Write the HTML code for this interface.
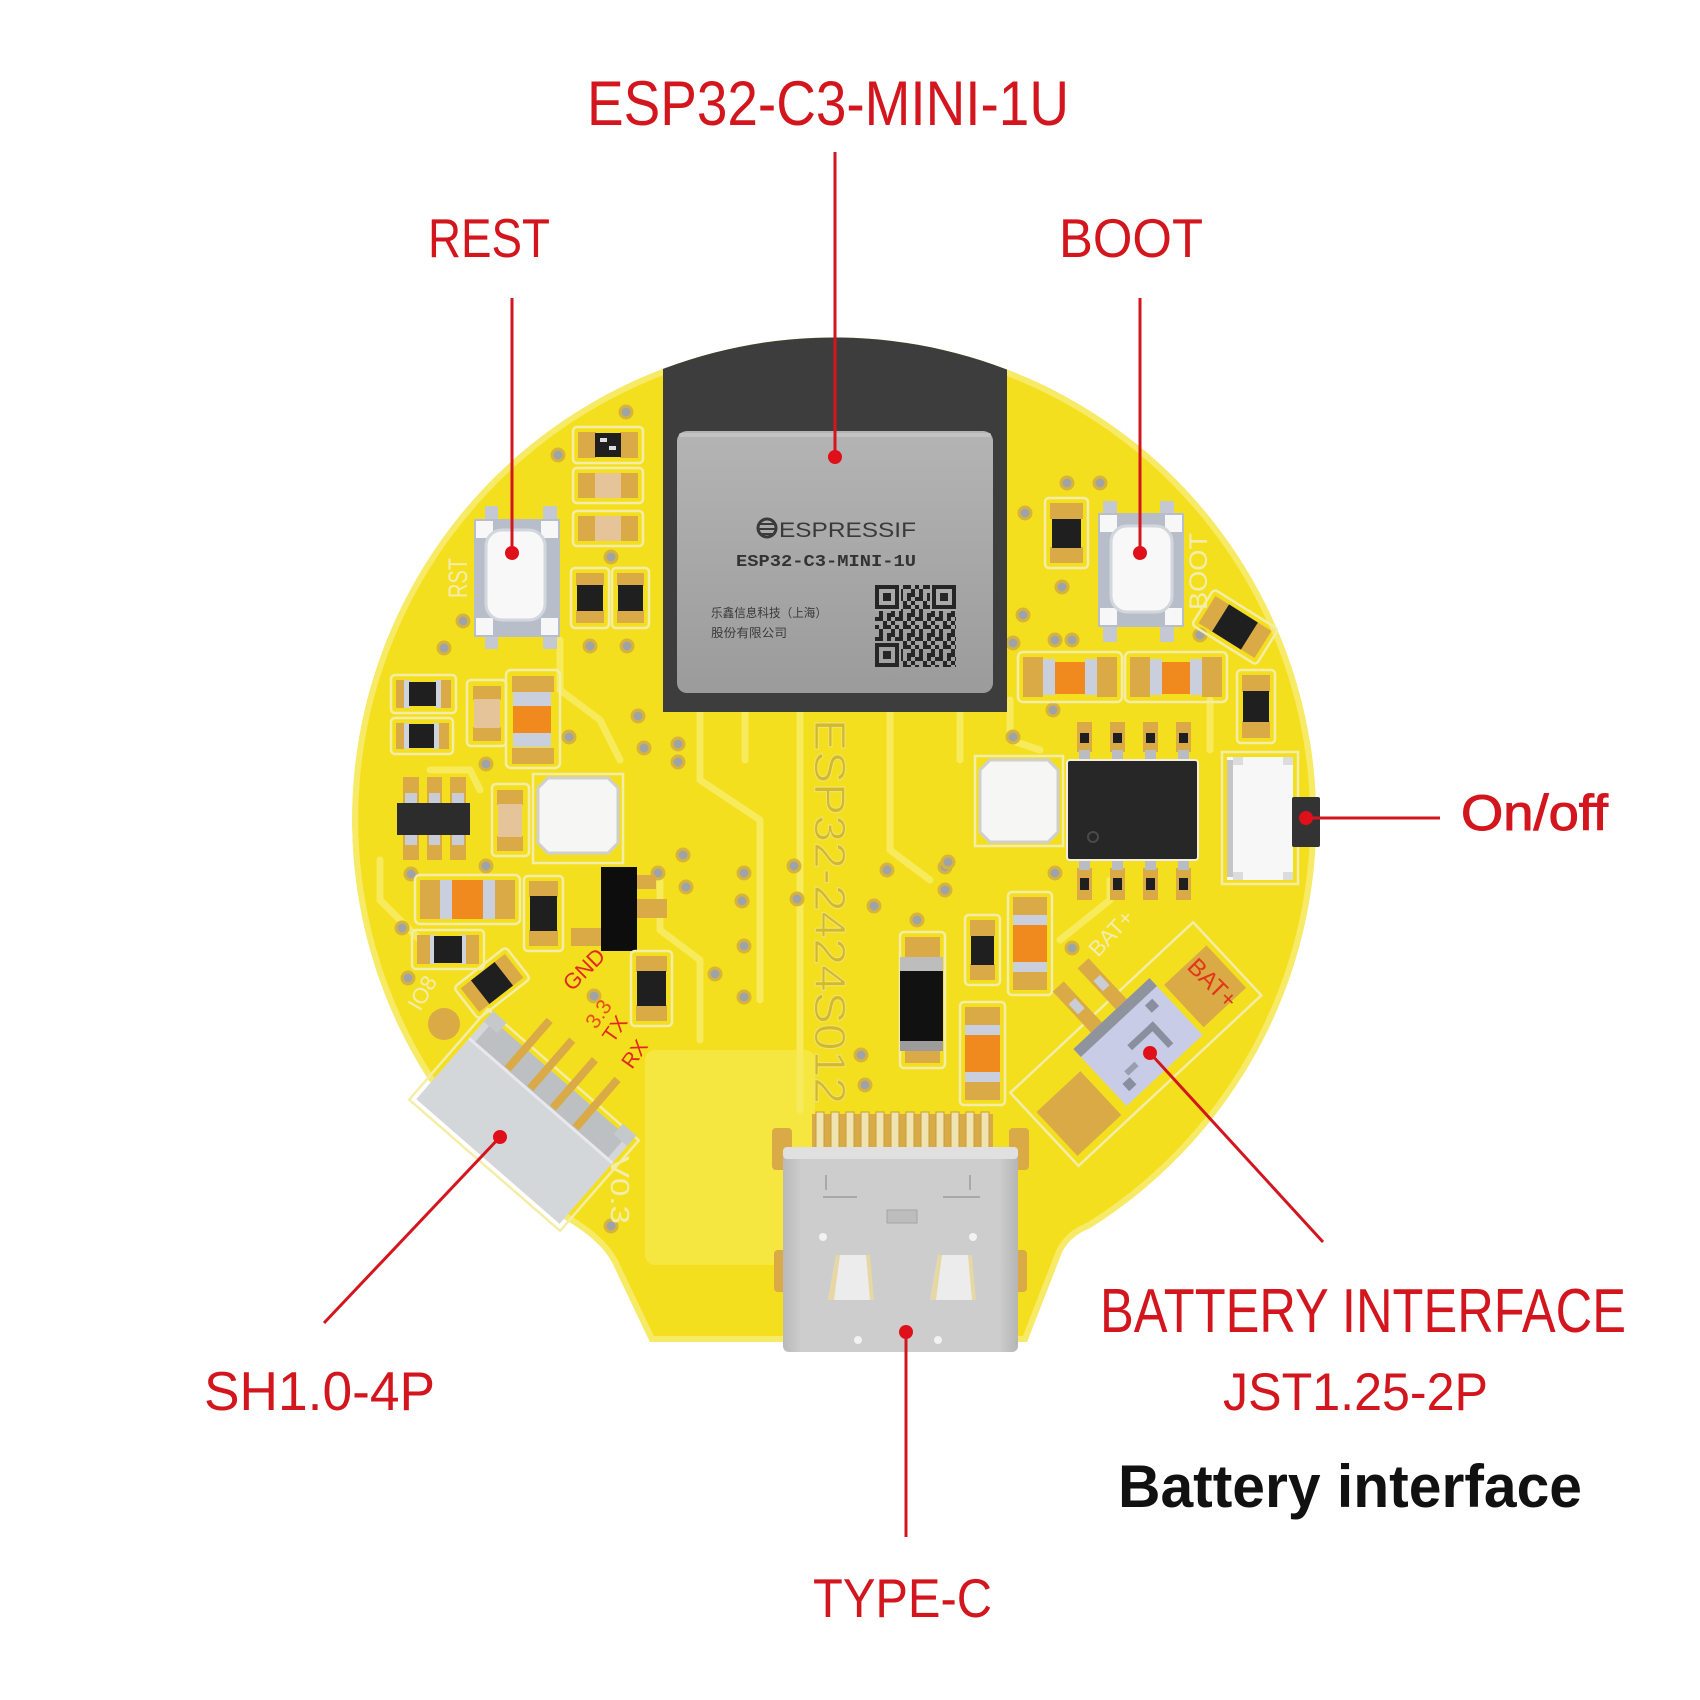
<!DOCTYPE html>
<html><head><meta charset="utf-8"><style>html,body{margin:0;padding:0;background:#fff}svg{display:block}</style></head>
<body>
<svg width="1700" height="1700" viewBox="0 0 1700 1700" xmlns="http://www.w3.org/2000/svg">
<defs>
<style>
.g{fill:#d9aa46}.k{fill:#1f1f1f}.o{fill:none;stroke:#f4eda8;stroke-width:2.5}
.b{fill:#c9cfdc}.or{fill:#f08a1e}.be{fill:#e6c499}
.v{fill:#9ea3a8;stroke:#d6b43c;stroke-width:3}
.t{fill:none;stroke:#f7ea5c;stroke-width:7;stroke-linecap:round;stroke-linejoin:round}
.lab{font-family:"Liberation Sans",Arial,sans-serif;fill:#d3161e}
.ln{stroke:#d3161e;stroke-width:3;fill:none}
.dot{fill:#e0101a}
</style>
<clipPath id="board"><path d="M1090 1228 A482 482 0 1 0 566 1220 Q600 1240 612 1262 L650 1342 L1027 1342 L1062 1252 Q1070 1236 1090 1228 Z"/></clipPath>
<linearGradient id="sh" x1="0" y1="0" x2="0" y2="1"><stop offset="0" stop-color="#b4b4b4"/><stop offset="1" stop-color="#9b9b9b"/></linearGradient>
<linearGradient id="usb" x1="0" y1="0" x2="1" y2="0"><stop offset="0" stop-color="#b9b9b9"/><stop offset="0.08" stop-color="#cdcdcd"/><stop offset="0.92" stop-color="#cdcdcd"/><stop offset="1" stop-color="#b5b5b5"/></linearGradient>
<pattern id="qr" x="875" y="585" width="20" height="20" patternUnits="userSpaceOnUse">
<g fill="#262626"><rect x="0" y="0" width="4" height="4"/><rect x="8" y="0" width="8" height="4"/><rect x="4" y="4" width="4" height="8"/><rect x="12" y="8" width="4" height="4"/><rect x="0" y="12" width="8" height="4"/><rect x="16" y="4" width="4" height="8"/><rect x="8" y="16" width="4" height="4"/><rect x="16" y="16" width="4" height="4"/><rect x="12" y="12" width="4" height="4"/></g>
</pattern>
</defs>
<rect width="1700" height="1700" fill="#fff"/>

<!-- BOARD -->
<path d="M1090 1228 A482 482 0 1 0 566 1220 Q600 1240 612 1262 L650 1342 L1027 1342 L1062 1252 Q1070 1236 1090 1228 Z" fill="#f4df1e"/>
<g clip-path="url(#board)">
<path d="M1090 1228 A482 482 0 1 0 566 1220 Q600 1240 612 1262 L650 1342 L1027 1342 L1062 1252 Q1070 1236 1090 1228 Z" fill="none" stroke="#f7ea66" stroke-width="12"/>
<rect x="645" y="1050" width="170" height="215" rx="10" fill="#f6e640"/>
<!-- traces -->
<polyline class="t" points="700,712 700,780 760,820 760,1000"/>
<polyline class="t" points="745,712 745,760"/>
<polyline class="t" points="800,712 800,1110"/>
<polyline class="t" points="890,712 890,850 930,880"/>
<polyline class="t" points="960,714 960,760"/>
<polyline class="t" points="560,640 560,690 600,720 620,760"/>
<polyline class="t" points="430,770 470,770 480,790"/>
<polyline class="t" points="1010,700 1010,740 1040,750"/>
<polyline class="t" points="1210,700 1210,750"/>
<polyline class="t" points="660,880 660,930 700,960 700,1040"/>
<polyline class="t" points="380,860 380,900 420,940"/>
<polyline class="t" points="1110,880 1110,900 1060,940"/>
</g>

<!-- vias -->
<g>
<circle class="v" cx="626" cy="412" r="6"/><circle class="v" cx="558" cy="455" r="6"/><circle class="v" cx="611" cy="557" r="6"/>
<circle class="v" cx="463" cy="621" r="6"/><circle class="v" cx="444" cy="648" r="6"/><circle class="v" cx="590" cy="646" r="6"/>
<circle class="v" cx="627" cy="646" r="6"/><circle class="v" cx="638" cy="716" r="6"/><circle class="v" cx="569" cy="737" r="6"/>
<circle class="v" cx="644" cy="748" r="6"/><circle class="v" cx="678" cy="744" r="6"/><circle class="v" cx="678" cy="762" r="6"/>
<circle class="v" cx="486" cy="764" r="6"/><circle class="v" cx="486" cy="866" r="6"/><circle class="v" cx="683" cy="855" r="6"/>
<circle class="v" cx="744" cy="873" r="6"/><circle class="v" cx="794" cy="866" r="6"/><circle class="v" cx="658" cy="873" r="6"/>
<circle class="v" cx="1067" cy="483" r="6"/><circle class="v" cx="1100" cy="483" r="6"/><circle class="v" cx="1025" cy="513" r="6"/>
<circle class="v" cx="1062" cy="587" r="6"/><circle class="v" cx="1023" cy="615" r="6"/><circle class="v" cx="1013" cy="643" r="6"/>
<circle class="v" cx="1055" cy="640" r="6"/><circle class="v" cx="1072" cy="640" r="6"/><circle class="v" cx="1200" cy="635" r="6"/>
<circle class="v" cx="1053" cy="710" r="6"/><circle class="v" cx="1013" cy="737" r="6"/>
<circle class="v" cx="411" cy="874" r="6"/><circle class="v" cx="402" cy="928" r="6"/><circle class="v" cx="408" cy="978" r="6"/>
<circle class="v" cx="686" cy="887" r="6"/><circle class="v" cx="742" cy="901" r="6"/><circle class="v" cx="744" cy="946" r="6"/>
<circle class="v" cx="715" cy="974" r="6"/><circle class="v" cx="744" cy="997" r="6"/><circle class="v" cx="797" cy="899" r="6"/>
<circle class="v" cx="861" cy="1055" r="6"/><circle class="v" cx="865" cy="1085" r="6"/><circle class="v" cx="611" cy="1226" r="6"/>
<circle class="v" cx="594" cy="996" r="6"/><circle class="v" cx="874" cy="906" r="6"/><circle class="v" cx="887" cy="870" r="6"/>
<circle class="v" cx="945" cy="867" r="6"/><circle class="v" cx="945" cy="890" r="6"/><circle class="v" cx="917" cy="920" r="6"/>
<circle class="v" cx="1072" cy="948" r="6"/><circle class="v" cx="1055" cy="873" r="6"/><circle class="v" cx="948" cy="862" r="6"/>
</g>

<!-- silkscreen board text -->
<text transform="translate(815,719) rotate(90)" font-family="Liberation Sans,Arial,sans-serif" font-size="44" fill="#d2b92a" stroke="#efe07a" stroke-width="1" textLength="385" lengthAdjust="spacingAndGlyphs">ESP32-2424S012</text>
<text transform="translate(611,1156) rotate(90)" font-family="Liberation Sans,Arial,sans-serif" font-size="26" fill="#f3edb0" textLength="68" lengthAdjust="spacingAndGlyphs">V0.3</text>
<text transform="translate(467,598) rotate(-90)" font-family="Liberation Sans,Arial,sans-serif" font-size="27" fill="#f3edb0" textLength="40" lengthAdjust="spacingAndGlyphs">RST</text>
<text transform="translate(1207,610) rotate(-90)" font-family="Liberation Sans,Arial,sans-serif" font-size="25" fill="#f3edb0" textLength="77" lengthAdjust="spacingAndGlyphs">BOOT</text>
<text transform="translate(420,1012) rotate(-60)" font-family="Liberation Sans,Arial,sans-serif" font-size="22" fill="#f3edb0">IO8</text>
<text transform="translate(1098,958) rotate(-47)" font-family="Liberation Sans,Arial,sans-serif" font-size="22" fill="#f3edb0">BAT+</text>
<text transform="translate(572,992) rotate(-45)" font-family="Liberation Sans,Arial,sans-serif" font-size="22" fill="#e0281c">GND</text>
<text transform="translate(596,1030) rotate(-55)" font-family="Liberation Sans,Arial,sans-serif" font-size="21" fill="#e8501a">3.3</text>
<text transform="translate(613,1044) rotate(-55)" font-family="Liberation Sans,Arial,sans-serif" font-size="21" fill="#e0281c">TX</text>
<text transform="translate(632,1070) rotate(-55)" font-family="Liberation Sans,Arial,sans-serif" font-size="21" fill="#e0281c">RX</text>
<circle cx="444" cy="1024" r="16" fill="#d9aa46"/>

<!-- LEFT COMPONENTS -->
<rect class="o" x="573" y="427" width="70" height="36" rx="4"/>
<rect class="g" x="578" y="432" width="18" height="26"/><rect class="g" x="620" y="432" width="18" height="26"/>
<rect class="k" x="595" y="433" width="26" height="24"/><rect x="600" y="438" width="7" height="4" fill="#ddd"/><rect x="609" y="446" width="7" height="4" fill="#ddd"/>
<rect class="o" x="573" y="468" width="70" height="35" rx="4"/>
<rect class="g" x="578" y="473" width="18" height="25"/><rect class="g" x="620" y="473" width="18" height="25"/><rect class="be" x="595" y="473" width="26" height="25"/>
<rect class="o" x="573" y="511" width="70" height="35" rx="4"/>
<rect class="g" x="578" y="516" width="18" height="25"/><rect class="g" x="620" y="516" width="18" height="25"/><rect class="be" x="595" y="516" width="26" height="25"/>
<rect class="o" x="571" y="568" width="38" height="60" rx="4"/>
<rect class="g" x="576" y="573" width="28" height="13"/><rect class="g" x="576" y="610" width="28" height="13"/><rect class="k" x="577" y="585" width="26" height="26"/>
<rect class="o" x="612" y="568" width="37" height="60" rx="4"/>
<rect class="g" x="617" y="573" width="27" height="13"/><rect class="g" x="617" y="610" width="27" height="13"/><rect class="k" x="618" y="585" width="25" height="26"/>
<!-- RST button -->
<rect x="485" y="506" width="13" height="14" fill="#c3c8d2"/><rect x="543" y="506" width="14" height="14" fill="#c3c8d2"/>
<rect x="485" y="636" width="13" height="13" fill="#c3c8d2"/><rect x="543" y="636" width="14" height="13" fill="#c3c8d2"/>
<rect x="474" y="519" width="86" height="118" fill="#b8bec9"/>
<rect x="476" y="521" width="17" height="17" fill="#f7f7f7"/><rect x="541" y="521" width="17" height="17" fill="#f7f7f7"/>
<rect x="476" y="618" width="17" height="17" fill="#f7f7f7"/><rect x="541" y="618" width="17" height="17" fill="#f7f7f7"/>
<rect x="486" y="530" width="59" height="90" rx="16" fill="#f8f8f8" stroke="#d2d6dd" stroke-width="3"/>
<!-- R6,R7 -->
<rect class="o" x="391" y="675" width="65" height="38" rx="4"/>
<rect class="g" x="396" y="680" width="14" height="28"/><rect class="g" x="437" y="680" width="14" height="28"/>
<rect x="404" y="680" width="6" height="28" fill="#cfd3dc"/><rect x="435" y="680" width="6" height="28" fill="#cfd3dc"/>
<rect class="k" x="409" y="682" width="27" height="24"/>
<rect class="o" x="391" y="718" width="62" height="36" rx="4"/>
<rect class="g" x="396" y="723" width="14" height="26"/><rect class="g" x="435" y="723" width="14" height="26"/>
<rect x="404" y="723" width="6" height="26" fill="#cfd3dc"/><rect x="433" y="723" width="6" height="26" fill="#cfd3dc"/>
<rect class="k" x="409" y="724" width="25" height="24"/>
<rect class="o" x="467" y="680" width="39" height="66" rx="4"/>
<rect class="g" x="473" y="686" width="28" height="14"/><rect class="g" x="473" y="727" width="28" height="14"/><rect class="be" x="474" y="699" width="26" height="29"/>
<rect class="o" x="506" y="670" width="54" height="98" rx="5"/>
<rect class="g" x="512" y="676" width="42" height="16"/><rect class="g" x="512" y="748" width="42" height="16"/>
<rect class="b" x="513" y="692" width="38" height="14"/><rect class="b" x="513" y="733" width="38" height="14"/>
<rect class="or" x="513" y="706" width="38" height="27"/>
<!-- U1 -->
<rect class="g" x="403" y="777" width="16" height="26"/><rect class="g" x="427" y="777" width="15" height="26"/><rect class="g" x="450" y="777" width="16" height="26"/>
<rect class="g" x="403" y="835" width="16" height="25"/><rect class="g" x="427" y="835" width="15" height="25"/><rect class="g" x="450" y="835" width="16" height="25"/>
<rect x="405" y="793" width="12" height="10" fill="#c8ccd4"/><rect x="429" y="793" width="11" height="10" fill="#c8ccd4"/><rect x="452" y="793" width="12" height="10" fill="#c8ccd4"/>
<rect x="405" y="835" width="12" height="10" fill="#c8ccd4"/><rect x="429" y="835" width="11" height="10" fill="#c8ccd4"/><rect x="452" y="835" width="12" height="10" fill="#c8ccd4"/>
<rect x="397" y="803" width="73" height="32" fill="#2c2c2c"/>
<rect class="o" x="492" y="784" width="37" height="72" rx="4"/>
<rect class="g" x="497" y="790" width="26" height="15"/><rect class="g" x="497" y="836" width="26" height="15"/><rect class="be" x="498" y="804" width="24" height="33"/>
<rect class="o" x="533" y="774" width="90" height="89"/>
<polygon points="548,778 608,778 618,788 618,843 608,853 548,853 538,843 538,788" fill="#f6f6f4" stroke="#cfcfcf" stroke-width="3"/>
<rect class="o" x="415" y="875" width="105" height="49" rx="5"/>
<rect class="g" x="420" y="880" width="20" height="39"/><rect class="g" x="495" y="880" width="20" height="39"/>
<rect class="b" x="440" y="880" width="12" height="39"/><rect class="b" x="483" y="880" width="12" height="39"/>
<rect class="or" x="452" y="880" width="31" height="39"/>
<rect class="o" x="524" y="876" width="39" height="75" rx="4"/>
<rect class="g" x="529" y="881" width="29" height="16"/><rect class="g" x="529" y="930" width="29" height="16"/><rect class="k" x="530" y="896" width="27" height="35"/>
<rect class="g" x="636" y="899" width="31" height="19"/><rect class="g" x="571" y="928" width="30" height="18"/><rect class="g" x="636" y="875" width="20" height="14"/>
<rect x="601" y="867" width="36" height="84" fill="#0d0d0d"/>
<rect class="o" x="412" y="930" width="72" height="39" rx="4"/>
<rect class="g" x="417" y="935" width="16" height="29"/><rect class="g" x="463" y="935" width="16" height="29"/>
<rect x="430" y="935" width="6" height="29" fill="#cfd3dc"/><rect x="460" y="935" width="6" height="29" fill="#cfd3dc"/>
<rect class="k" x="434" y="936" width="28" height="27"/>
<g transform="translate(492,983) rotate(-38)">
<rect class="o" x="-33" y="-20" width="66" height="40" rx="4"/>
<rect class="g" x="-28" y="-15" width="14" height="30"/><rect class="g" x="14" y="-15" width="14" height="30"/><rect class="k" x="-15" y="-15" width="30" height="30"/>
</g>
<rect class="o" x="631" y="951" width="41" height="75" rx="4"/>
<rect class="g" x="636" y="956" width="31" height="16"/><rect class="g" x="636" y="1005" width="31" height="16"/><rect class="k" x="637" y="971" width="29" height="35"/>

<!-- SH1.0 connector -->
<g transform="translate(524,1120) rotate(41)">
<rect x="-100" y="-60" width="200" height="120" fill="none" stroke="#f4eda8" stroke-width="2.5"/>
<rect x="-95" y="-55" width="190" height="110" fill="#d4d7d9"/>
<rect x="-88" y="-55" width="176" height="28" fill="#bcc0c3"/>
<rect x="-95" y="-62" width="18" height="14" fill="#c5c9cc"/><rect x="77" y="-62" width="18" height="14" fill="#c5c9cc"/>
<rect class="g" x="-50" y="-92" width="8" height="64"/><rect class="g" x="-20" y="-92" width="8" height="64"/>
<rect class="g" x="10" y="-92" width="8" height="64"/><rect class="g" x="40" y="-92" width="8" height="64"/>
<rect x="-95" y="-27" width="190" height="3" fill="#e6e8ea"/>
</g>

<!-- RIGHT COMPONENTS -->
<rect class="o" x="1045" y="498" width="43" height="70" rx="4"/>
<rect class="g" x="1050" y="503" width="33" height="16"/><rect class="g" x="1050" y="547" width="33" height="16"/><rect class="k" x="1052" y="519" width="29" height="29"/>
<rect x="1103" y="501" width="14" height="14" fill="#c3c8d2"/><rect x="1160" y="501" width="14" height="14" fill="#c3c8d2"/>
<rect x="1103" y="626" width="14" height="16" fill="#c3c8d2"/><rect x="1160" y="626" width="14" height="16" fill="#c3c8d2"/>
<rect x="1098" y="513" width="86" height="114" fill="#b8bec9"/>
<rect x="1100" y="515" width="17" height="17" fill="#f7f7f7"/><rect x="1165" y="515" width="17" height="17" fill="#f7f7f7"/>
<rect x="1100" y="608" width="17" height="17" fill="#f7f7f7"/><rect x="1165" y="608" width="17" height="17" fill="#f7f7f7"/>
<rect x="1111" y="526" width="61" height="86" rx="16" fill="#f8f8f8" stroke="#d2d6dd" stroke-width="3"/>
<g transform="translate(1235,627) rotate(32)">
<rect class="o" x="-38" y="-21" width="76" height="42" rx="4"/>
<rect class="g" x="-33" y="-16" width="17" height="32"/><rect class="g" x="16" y="-16" width="17" height="32"/><rect class="k" x="-17" y="-16" width="34" height="32"/>
</g>
<rect class="o" x="1018" y="652" width="104" height="50" rx="5"/>
<rect class="g" x="1023" y="657" width="20" height="40"/><rect class="g" x="1097" y="657" width="20" height="40"/>
<rect class="b" x="1043" y="659" width="12" height="36"/><rect class="b" x="1085" y="659" width="12" height="36"/>
<rect class="or" x="1055" y="662" width="30" height="32"/>
<rect class="o" x="1125" y="652" width="102" height="50" rx="5"/>
<rect class="g" x="1130" y="657" width="20" height="40"/><rect class="g" x="1202" y="657" width="20" height="40"/>
<rect class="b" x="1150" y="659" width="12" height="36"/><rect class="b" x="1190" y="659" width="12" height="36"/>
<rect class="or" x="1162" y="662" width="28" height="32"/>
<rect class="o" x="1237" y="670" width="38" height="73" rx="4"/>
<rect class="g" x="1242" y="675" width="28" height="17"/><rect class="g" x="1242" y="721" width="28" height="17"/><rect class="k" x="1243" y="691" width="26" height="31"/>
<!-- U2 SOP8 -->
<g>
<rect class="g" x="1077" y="722" width="15" height="30"/><rect class="g" x="1110" y="722" width="15" height="30"/><rect class="g" x="1143" y="722" width="15" height="30"/><rect class="g" x="1176" y="722" width="15" height="30"/>
<rect class="k" x="1080" y="733" width="9" height="10"/><rect class="k" x="1113" y="733" width="9" height="10"/><rect class="k" x="1146" y="733" width="9" height="10"/><rect class="k" x="1179" y="733" width="9" height="10"/>
<rect x="1079" y="750" width="11" height="12" fill="#b9bcc2"/><rect x="1112" y="750" width="11" height="12" fill="#b9bcc2"/><rect x="1145" y="750" width="11" height="12" fill="#b9bcc2"/><rect x="1178" y="750" width="11" height="12" fill="#b9bcc2"/>
<rect class="g" x="1077" y="868" width="15" height="32"/><rect class="g" x="1110" y="868" width="15" height="32"/><rect class="g" x="1143" y="868" width="15" height="32"/><rect class="g" x="1176" y="868" width="15" height="32"/>
<rect class="k" x="1080" y="878" width="9" height="12"/><rect class="k" x="1113" y="878" width="9" height="12"/><rect class="k" x="1146" y="878" width="9" height="12"/><rect class="k" x="1179" y="878" width="9" height="12"/>
<rect x="1079" y="858" width="11" height="12" fill="#b9bcc2"/><rect x="1112" y="858" width="11" height="12" fill="#b9bcc2"/><rect x="1145" y="858" width="11" height="12" fill="#b9bcc2"/><rect x="1178" y="858" width="11" height="12" fill="#b9bcc2"/>
<rect x="1067" y="760" width="131" height="100" rx="3" fill="#272727" stroke="#f2efe0" stroke-width="2"/>
<circle cx="1093" cy="837" r="5" fill="none" stroke="#4a4a4a" stroke-width="2"/>
</g>
<rect class="o" x="975" y="756" width="88" height="90"/>
<polygon points="990,760 1048,760 1058,770 1058,832 1048,842 990,842 980,832 980,770" fill="#f6f6f4" stroke="#cfcfcf" stroke-width="3"/>
<rect x="1222" y="752" width="76" height="132" fill="none" stroke="#f4eda8" stroke-width="2.5"/>
<rect x="1227" y="757" width="66" height="123" fill="#f7f7f7"/>
<rect x="1227" y="760" width="6" height="117" fill="#c6c6c6"/>
<rect x="1233" y="757" width="10" height="8" fill="#dcdcdc"/><rect x="1283" y="757" width="10" height="8" fill="#dcdcdc"/>
<rect x="1233" y="872" width="10" height="8" fill="#dcdcdc"/><rect x="1283" y="872" width="10" height="8" fill="#dcdcdc"/>
<rect x="1292" y="797" width="28" height="50" rx="2" fill="#333"/>
<rect class="o" x="900" y="932" width="45" height="136" rx="4"/>
<rect class="g" x="905" y="937" width="35" height="126"/>
<rect x="900" y="957" width="43" height="14" fill="#bdbdbd"/>
<rect x="900" y="971" width="43" height="70" fill="#111"/>
<rect x="900" y="1041" width="43" height="10" fill="#9c9c9c"/>
<rect class="o" x="965" y="915" width="35" height="70" rx="4"/>
<rect class="g" x="970" y="920" width="25" height="16"/><rect class="g" x="970" y="964" width="25" height="16"/><rect class="k" x="971" y="936" width="23" height="29"/>
<rect class="o" x="1008" y="892" width="44" height="103" rx="4"/>
<rect class="g" x="1013" y="897" width="34" height="18"/><rect class="g" x="1013" y="972" width="34" height="18"/>
<rect class="b" x="1013" y="915" width="34" height="10"/><rect class="b" x="1013" y="962" width="34" height="10"/>
<rect class="or" x="1013" y="925" width="34" height="37"/>
<rect class="o" x="960" y="1002" width="45" height="103" rx="4"/>
<rect class="g" x="965" y="1007" width="35" height="18"/><rect class="g" x="965" y="1082" width="35" height="18"/>
<rect class="b" x="965" y="1025" width="35" height="10"/><rect class="b" x="965" y="1072" width="35" height="10"/>
<rect class="or" x="965" y="1035" width="35" height="37"/>

<!-- JST battery connector -->
<g transform="translate(1138,1042) rotate(-43)">
<rect x="-128" y="-50" width="250" height="100" fill="none" stroke="#f4eda8" stroke-width="2.5"/>
<rect class="g" x="-122" y="-18" width="60" height="60"/>
<rect class="g" x="58" y="-24" width="58" height="58"/>
<rect class="g" x="-28" y="-95" width="15" height="60"/><rect class="g" x="6" y="-95" width="15" height="60"/>
<rect x="-25" y="-75" width="9" height="14" fill="#c9cdd6"/><rect x="9" y="-75" width="9" height="14" fill="#c9cdd6"/>
<rect x="-52" y="-39" width="104" height="78" fill="#c8cce6"/>
<rect x="-52" y="-39" width="104" height="11" fill="#8f939d"/>
<rect x="-10" y="-5" width="34" height="7" fill="#8a8fa0"/><rect x="18" y="-5" width="7" height="30" fill="#8a8fa0"/>
<rect x="-30" y="12" width="14" height="6" fill="#9a9fb0"/><rect x="30" y="-22" width="10" height="10" fill="#8a8fa0"/>
<rect x="-40" y="20" width="10" height="10" fill="#8a8fa0"/>
</g>
<text transform="translate(1186,968) rotate(45)" font-family="Liberation Sans,Arial,sans-serif" font-size="24" fill="#e2361a">BAT+</text>

<!-- USB-C -->
<rect class="g" x="772" y="1128" width="20" height="42" rx="4"/><rect class="g" x="1009" y="1128" width="20" height="42" rx="4"/>
<rect class="g" x="774" y="1250" width="14" height="42" rx="4"/><rect class="g" x="1013" y="1250" width="14" height="42" rx="4"/>
<rect x="812" y="1114" width="181" height="36" fill="#d8ab48"/>
<g fill="#efe3b2" stroke="#c99c3a" stroke-width="1">
<rect x="816" y="1112" width="8" height="38"/><rect x="831" y="1112" width="8" height="38"/><rect x="846" y="1112" width="8" height="38"/><rect x="861" y="1112" width="8" height="38"/>
<rect x="876" y="1112" width="8" height="38"/><rect x="891" y="1112" width="8" height="38"/><rect x="906" y="1112" width="8" height="38"/><rect x="921" y="1112" width="8" height="38"/>
<rect x="936" y="1112" width="8" height="38"/><rect x="951" y="1112" width="8" height="38"/><rect x="966" y="1112" width="8" height="38"/><rect x="981" y="1112" width="8" height="38"/>
</g>
<rect x="783" y="1147" width="235" height="205" rx="6" fill="url(#usb)"/>
<rect x="783" y="1147" width="235" height="12" rx="4" fill="#e0e0e0"/>
<g fill="none" stroke="#a9a9a9" stroke-width="2">
<path d="M823 1197 L857 1197 M826 1175 L826 1190"/><path d="M943 1197 L980 1197 M970 1175 L970 1190"/>
</g>
<rect x="887" y="1210" width="30" height="13" fill="#bdbdbd" stroke="#a5a5a5"/>
<path d="M828 1300 L836 1255 L866 1255 L872 1300 Z" fill="#ececec"/>
<path d="M828 1300 L836 1255 L840 1255 L834 1300 Z" fill="#e6d7a4"/><path d="M866 1255 L870 1255 L874 1300 L870 1300 Z" fill="#e6d7a4"/>
<path d="M930 1300 L938 1255 L968 1255 L974 1300 Z" fill="#ececec"/>
<path d="M930 1300 L938 1255 L942 1255 L936 1300 Z" fill="#e6d7a4"/><path d="M968 1255 L972 1255 L976 1300 L972 1300 Z" fill="#e6d7a4"/>
<circle cx="823" cy="1237" r="4" fill="#f2f2f2"/><circle cx="973" cy="1237" r="4" fill="#f2f2f2"/>
<circle cx="858" cy="1340" r="4" fill="#f2f2f2"/><circle cx="938" cy="1340" r="4" fill="#f2f2f2"/>

<!-- ESP32 MODULE -->
<g clip-path="url(#board)">
<rect x="663" y="320" width="344" height="392" fill="#3d3d3d"/>
</g>
<rect x="677" y="431" width="316" height="262" rx="10" fill="url(#sh)"/>
<rect x="679" y="433" width="312" height="4" rx="2" fill="#c2c2c2"/>
<circle cx="767" cy="528" r="9" fill="none" stroke="#3a3a3a" stroke-width="3"/>
<path d="M760 524 L774 524 M759 529 L775 529 M760 534 L774 534" stroke="#3a3a3a" stroke-width="2"/>
<text x="779" y="537" font-family="Liberation Sans,Arial,sans-serif" font-size="21" fill="#3a3a3a" textLength="137" lengthAdjust="spacingAndGlyphs">ESPRESSIF</text>
<text x="736" y="566" font-family="Liberation Mono,monospace" font-weight="bold" font-size="17" fill="#333" textLength="180" lengthAdjust="spacingAndGlyphs">ESP32-C3-MINI-1U</text>
<text x="711" y="617" font-family="Liberation Sans,'Noto Sans CJK SC',sans-serif" font-size="12" fill="#3a3a3a" textLength="116" lengthAdjust="spacingAndGlyphs">乐鑫信息科技（上海）</text>
<text x="711" y="637" font-family="Liberation Sans,'Noto Sans CJK SC',sans-serif" font-size="12" fill="#3a3a3a" textLength="76" lengthAdjust="spacingAndGlyphs">股份有限公司</text>
<rect x="875" y="585" width="81" height="82" fill="url(#qr)"/>
<g>
<rect x="875" y="585" width="26" height="26" fill="#aaa"/><rect x="875" y="585" width="24" height="24" fill="#262626"/><rect x="879" y="589" width="16" height="16" fill="#aaa"/><rect x="883" y="593" width="8" height="8" fill="#262626"/>
<rect x="930" y="585" width="26" height="26" fill="#aaa"/><rect x="932" y="585" width="24" height="24" fill="#262626"/><rect x="936" y="589" width="16" height="16" fill="#aaa"/><rect x="940" y="593" width="8" height="8" fill="#262626"/>
<rect x="875" y="641" width="26" height="26" fill="#a2a2a2"/><rect x="875" y="643" width="24" height="24" fill="#262626"/><rect x="879" y="647" width="16" height="16" fill="#a2a2a2"/><rect x="883" y="651" width="8" height="8" fill="#262626"/>
</g>

<!-- LABELS -->
<g class="lab">
<text x="587" y="125" font-size="63" textLength="482" lengthAdjust="spacingAndGlyphs">ESP32-C3-MINI-1U</text>
<text x="428" y="257" font-size="55" textLength="122" lengthAdjust="spacingAndGlyphs">REST</text>
<text x="1059" y="257" font-size="55" textLength="144" lengthAdjust="spacingAndGlyphs">BOOT</text>
<text x="1461" y="830" font-size="50" stroke="#d3161e" stroke-width="1" textLength="147" lengthAdjust="spacingAndGlyphs">On/off</text>
<text x="204" y="1410" font-size="55" textLength="231" lengthAdjust="spacingAndGlyphs">SH1.0-4P</text>
<text x="813" y="1617" font-size="55" textLength="179" lengthAdjust="spacingAndGlyphs">TYPE-C</text>
<text x="1100" y="1332" font-size="62" textLength="526" lengthAdjust="spacingAndGlyphs">BATTERY INTERFACE</text>
<text x="1223" y="1410" font-size="53" textLength="265" lengthAdjust="spacingAndGlyphs">JST1.25-2P</text>
</g>
<text x="1118" y="1507" font-family="Liberation Sans,Arial,sans-serif" font-weight="bold" font-size="60" fill="#111" textLength="464" lengthAdjust="spacingAndGlyphs">Battery interface</text>

<!-- CONNECTOR LINES -->
<g class="ln">
<line x1="835" y1="152" x2="835" y2="457"/>
<line x1="512" y1="298" x2="512" y2="553"/>
<line x1="1140" y1="298" x2="1140" y2="553"/>
<line x1="1306" y1="818" x2="1440" y2="818"/>
<line x1="324" y1="1323" x2="500" y2="1137"/>
<line x1="906" y1="1537" x2="906" y2="1332"/>
<line x1="1323" y1="1242" x2="1150" y2="1053"/>
</g>
<g class="dot">
<circle cx="835" cy="457" r="7"/><circle cx="512" cy="553" r="7"/><circle cx="1140" cy="553" r="7"/>
<circle cx="1306" cy="818" r="7"/><circle cx="500" cy="1137" r="7"/><circle cx="906" cy="1332" r="7"/><circle cx="1150" cy="1053" r="7"/>
</g>
</svg>
</body></html>
